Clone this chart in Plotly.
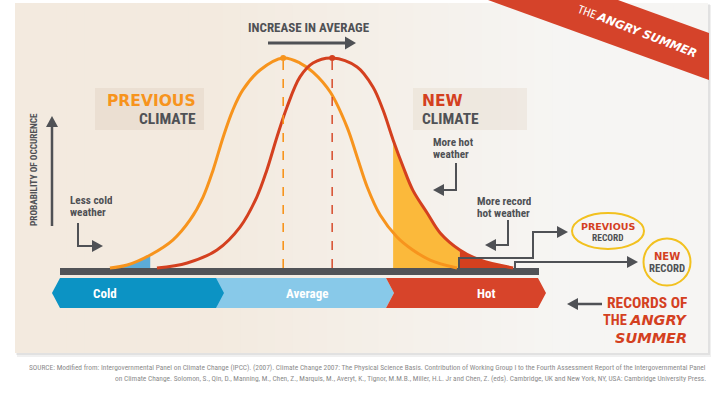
import plotly.graph_objects as go

# ---------------- data (temperature index vs. relative probability) ----------------
previous_temp = [10.4, 14.0, 18.8, 23.5, 27.1, 29.8, 31.9, 34.0, 36.0, 38.1, 41.7, 46.5,
                 50.0, 52.7, 56.3, 59.8, 61.9, 64.0, 66.7, 70.2, 73.5, 77.1, 82.7]
previous_prob = [0, 0.014, 0.062, 0.133, 0.229, 0.338, 0.467, 0.624, 0.752, 0.848, 0.943, 1.0,
                 0.976, 0.933, 0.838, 0.671, 0.529, 0.386, 0.252, 0.148, 0.086, 0.038, 0]
new_temp = [20.2, 26.5, 32.7, 37.5, 41.0, 43.1, 45.2, 47.3, 50.0, 52.7, 56.7, 61.9,
            65.2, 67.3, 69.4, 71.5, 73.5, 76.5, 79.2, 83.3, 87.5, 94.4]
new_prob = [0, 0.024, 0.086, 0.195, 0.338, 0.467, 0.624, 0.767, 0.91, 0.976, 1.0, 0.957,
            0.862, 0.752, 0.610, 0.481, 0.371, 0.262, 0.167, 0.086, 0.038, 0]
band_labels = ["Cold", "Average", "Hot"]
less_cold_end = 3          # previous-climate points in the "less cold" tail
hot_start, record_start = 14, 19   # new-climate points: more hot / record hot

W, H = 719, 394
ORANGE = "#f7941d"
RED = "#d4401f"
GRAY = "#4f5155"
NARROW = "Liberation Sans Narrow, Arial Narrow, Roboto Condensed, sans-serif"
HEAVY = "DejaVu Sans, Verdana, sans-serif"


def X(px):
    return px / W


def Y(py):
    return 1 - py / H


fig = go.Figure()

# fills
fig.add_trace(go.Scatter(x=previous_temp[:less_cold_end], y=previous_prob[:less_cold_end],
                         mode="lines", line=dict(width=0, shape="spline"), fill="tozeroy",
                         fillcolor="#5cabd8", hoverinfo="skip"))
fig.add_trace(go.Scatter(x=new_temp[hot_start:record_start + 1], y=new_prob[hot_start:record_start + 1],
                         mode="lines", line=dict(width=0, shape="spline"), fill="tozeroy",
                         fillcolor="#fbb93b", hoverinfo="skip"))
fig.add_trace(go.Scatter(x=new_temp[record_start:], y=new_prob[record_start:],
                         mode="lines", line=dict(width=0, shape="spline"), fill="tozeroy",
                         fillcolor=RED, hoverinfo="skip"))
# curves
fig.add_trace(go.Scatter(x=previous_temp, y=previous_prob, mode="lines",
                         line=dict(color=ORANGE, width=3, shape="spline"), hoverinfo="skip"))
fig.add_trace(go.Scatter(x=new_temp, y=new_prob, mode="lines",
                         line=dict(color=RED, width=3, shape="spline"), hoverinfo="skip"))
# peaks
ip = previous_prob.index(max(previous_prob))
inw = new_prob.index(max(new_prob))
fig.add_trace(go.Scatter(x=[previous_temp[ip], new_temp[inw]], y=[previous_prob[ip], new_prob[inw]],
                         mode="markers", marker=dict(size=6, color=[ORANGE, RED]), hoverinfo="skip"))

shapes = []
# background card with gradient and soft shadow
shapes.append(dict(type="rect", xref="paper", yref="paper", x0=X(17), x1=X(711), y0=Y(357), y1=Y(5),
                   fillcolor="rgba(0,0,0,0.06)", line_width=0, layer="below"))
shapes.append(dict(type="rect", xref="paper", yref="paper", x0=X(16), x1=X(710), y0=Y(355), y1=Y(4),
                   fillcolor="rgba(0,0,0,0.06)", line_width=0, layer="below"))
c0 = (243, 234, 223)
c1 = (246, 245, 243)
n = 40
x_start, x_end = 15, 708
for i in range(n):
    a = x_start + (x_end - x_start) * i / n
    b = x_start + (x_end - x_start) * (i + 1) / n
    t = min(1.0, max(0.0, (a - 200) / 350))
    col = tuple(round(c0[k] + (c1[k] - c0[k]) * t) for k in range(3))
    shapes.append(dict(type="rect", xref="paper", yref="paper", x0=X(a), x1=X(min(b + 0.6, x_end)),
                       y0=Y(353), y1=Y(3), fillcolor="rgb(%d,%d,%d)" % col, line_width=0, layer="below"))


def path(pts, close=True):
    s = "M " + " L ".join("%.5f,%.5f" % (X(p[0]), Y(p[1])) for p in pts)
    return s + (" Z" if close else "")


# sash
shapes.append(dict(type="path", xref="paper", yref="paper",
                   path=path([(488, 0), (618, 0), (709, 33), (709, 80)]),
                   fillcolor="#d5432a", line_width=0, layer="below"))
# title boxes
shapes.append(dict(type="rect", xref="paper", yref="paper", x0=X(95), x1=X(204), y0=Y(130), y1=Y(88),
                   fillcolor="rgba(215,195,175,0.28)", line_width=0, layer="below"))
shapes.append(dict(type="rect", xref="paper", yref="paper", x0=X(413), x1=X(527), y0=Y(130), y1=Y(88),
                   fillcolor="rgba(215,195,175,0.22)", line_width=0, layer="below"))
# baseline bar
shapes.append(dict(type="rect", xref="paper", yref="paper", x0=X(60), x1=X(539), y0=Y(275), y1=Y(268),
                   fillcolor="#515357", line_width=0, layer="below"))
# bands
shapes.append(dict(type="path", xref="paper", yref="paper",
                   path=path([(216, 278), (386, 278), (394, 293), (386, 308), (216, 308)]),
                   fillcolor="#88c9e9", line_width=0, layer="below"))
shapes.append(dict(type="path", xref="paper", yref="paper",
                   path=path([(60, 278), (216, 278), (224, 293), (216, 308), (60, 308), (52, 293)]),
                   fillcolor="#0c93c4", line_width=0, layer="below"))
shapes.append(dict(type="path", xref="paper", yref="paper",
                   path=path([(386, 278), (538, 278), (546, 293), (538, 308), (386, 308), (394, 293)]),
                   fillcolor="#d7442a", line_width=0, layer="below"))
# dashed mean lines (data coordinates)
shapes.append(dict(type="line", xref="x", yref="y", x0=previous_temp[ip], x1=previous_temp[ip], y0=0,
                   y1=previous_prob[ip], line=dict(color=ORANGE, width=1.6, dash="dash")))
shapes.append(dict(type="line", xref="x", yref="y", x0=new_temp[inw], x1=new_temp[inw], y0=0,
                   y1=new_prob[inw], line=dict(color=RED, width=1.4, dash="dash")))


def poly(pts, width=2.2):
    shapes.append(dict(type="path", xref="paper", yref="paper", path=path(pts, close=False),
                       line=dict(color=GRAY, width=width)))


def head(tip, direction, length=11, half=6):
    x, y = tip
    if direction == "right":
        pts = [(x, y), (x - length, y - half), (x - length, y + half)]
    elif direction == "left":
        pts = [(x, y), (x + length, y - half), (x + length, y + half)]
    else:  # up
        pts = [(x, y), (x - half, y + length), (x + half, y + length)]
    shapes.append(dict(type="path", xref="paper", yref="paper", path=path(pts),
                       fillcolor=GRAY, line_width=0))


# increase arrow
poly([(268, 43), (346, 43)], 3)
head((356, 43), "right", 11, 6.5)
# y axis arrow
poly([(52, 226), (52, 126)], 2.5)
head((52, 116), "up", 11, 6)
# less cold
poly([(78, 223), (78, 246), (93, 246)], 2)
head((103, 246), "right", 11, 6)
# more hot
poly([(456, 163), (456, 190), (443, 190)], 2)
head((433, 190), "left", 11, 6)
# more record
poly([(508, 220), (508, 245), (495, 245)], 2)
head((485, 245), "left", 11, 6)
# previous record connector
poly([(459, 268), (459, 258), (533, 258), (533, 232), (557, 232)], 2)
head((568, 232), "right", 11, 6)
# new record connector
poly([(515, 268), (515, 262), (627, 262)], 2)
head((638, 262), "right", 11, 6)
# records of angry summer
poly([(602, 304), (577, 304)], 2.5)
head((567, 304), "left", 11, 6)
# record ellipses
shapes.append(dict(type="circle", xref="paper", yref="paper", x0=X(572), x1=X(644), y0=Y(249), y1=Y(213),
                   line=dict(color="#f2c11f", width=2)))
shapes.append(dict(type="circle", xref="paper", yref="paper", x0=X(643.5), x1=X(690.5), y0=Y(285.5),
                   y1=Y(238.5), line=dict(color="#f2c11f", width=2)))

annotations = []


def ann(text, px, py, size, color=GRAY, family=NARROW, xanchor="center", angle=0, box_h=None):
    a = dict(text=text, x=X(px), y=Y(py), xref="paper", yref="paper", showarrow=False,
             xanchor=xanchor, yanchor="middle", textangle=angle, borderpad=0,
             font=dict(size=size, color=color, family=family))
    if box_h is not None:
        a["height"] = box_h
        a["valign"] = "middle"
    annotations.append(a)


ann("<b>INCREASE IN AVERAGE</b>", 309, 28, 13)
ann("<b>PREVIOUS</b>", 197, 100.5, 15.5, ORANGE, HEAVY, "right", box_h=17)
ann("<b>CLIMATE</b>", 197, 118.5, 15.5, GRAY, NARROW, "right", box_h=17)
ann("<b>NEW</b>", 421, 100.5, 15.5, RED, HEAVY, "left", box_h=17)
ann("<b>CLIMATE</b>", 421, 118.5, 15.5, GRAY, NARROW, "left", box_h=17)
ann("<b>More hot</b>", 432, 142, 11.2, xanchor="left", box_h=12)
ann("<b>weather</b>", 432, 154, 11.2, xanchor="left", box_h=12)
ann("<b>More record</b>", 476, 201, 11.2, xanchor="left", box_h=12)
ann("<b>hot weather</b>", 476, 213, 11.2, xanchor="left", box_h=12)
ann("<b>Less cold</b>", 69, 200, 11.2, xanchor="left", box_h=12)
ann("<b>weather</b>", 69, 212, 11.2, xanchor="left", box_h=12)
ann("<b>PROBABILITY OF OCCURENCE</b>", 33, 170, 9.3, angle=-90)
for lab, cx in zip(band_labels, [105, 307, 486]):
    ann("<b>%s</b>" % lab, cx, 293, 13, "white")
ann("<b>PREVIOUS</b>", 608, 226.5, 9.5, RED, HEAVY, box_h=11)
ann("<b>RECORD</b>", 608, 237.5, 9.5, GRAY, box_h=11)
ann("<b>NEW</b>", 667, 255.5, 10, RED, HEAVY, box_h=12)
ann("<b>RECORD</b>", 667, 267.5, 10.8, GRAY, box_h=12)
ann("<b>RECORDS OF</b>", 688, 302.5, 15.5, RED, NARROW, "right", box_h=17)
ann("<b>THE <span style='font-family:DejaVu Sans'><i>ANGRY</i></span></b>", 688, 320, 14.5, RED,
    NARROW, "right", box_h=17)
ann("<b><i>SUMMER</i></b>", 688, 337.5, 14.5, RED, HEAVY, "right", box_h=17)
ann("THE <span style='font-family:DejaVu Sans'><b><i>ANGRY SUMMER</i></b></span>", 637, 31, 11.5,
    "white", NARROW, angle=21)
ann("SOURCE: Modified from: Intergovernmental Panel on Climate Change (IPCC). (2007). Climate Change 2007: "
    "The Physical Science Basis. Contribution of Working Group I to the Fourth Assessment Report of the "
    "Intergovernmental Panel", 707, 367, 7.4, "#8c8c8c", NARROW, "right", box_h=10)
ann("on Climate Change. Solomon, S., Qin, D., Manning, M., Chen, Z., Marquis, M., Averyt, K., Tignor, M.M.B., "
    "Miller, H.L. Jr and Chen, Z. (eds). Cambridge, UK and New York, NY, USA: Cambridge University Press.",
    707, 377.5, 7.4, "#8c8c8c", NARROW, "right", box_h=10)

x_lo = (0 - 60) / 4.8
x_hi = (W - 60) / 4.8
y_lo = (268 - H) / 210
y_hi = 268 / 210
fig.update_layout(
    width=W, height=H, margin=dict(l=0, r=0, t=0, b=0),
    paper_bgcolor="white", plot_bgcolor="rgba(0,0,0,0)", showlegend=False,
    xaxis=dict(range=[x_lo, x_hi], visible=False, fixedrange=True),
    yaxis=dict(range=[y_lo, y_hi], visible=False, fixedrange=True),
    shapes=shapes, annotations=annotations,
)
fig.write_html("out.html", config={"displayModeBar": False},
               post_script="document.body.style.margin='0px';document.body.style.overflow='hidden';")
